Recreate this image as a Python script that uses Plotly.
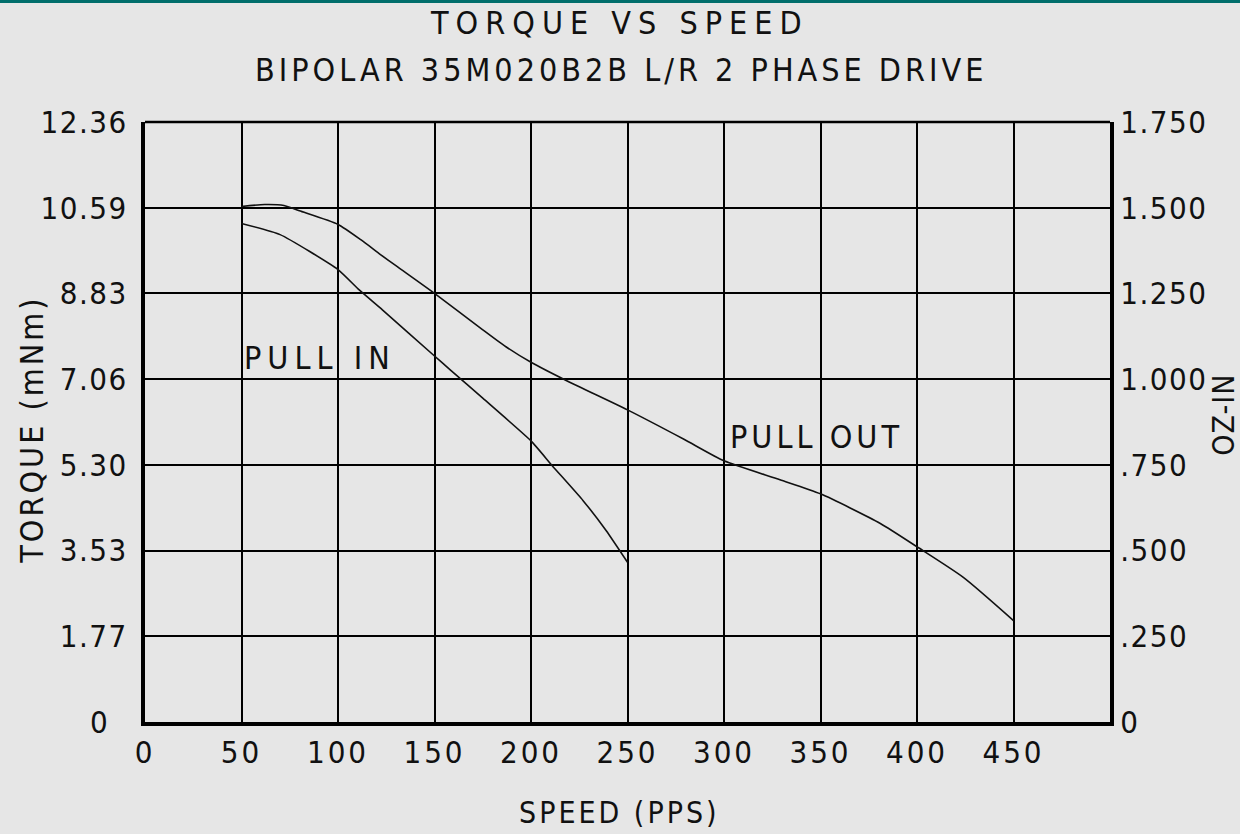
import plotly.graph_objects as go

# ---- data ----
pull_out_speed = [50, 62, 72, 80, 100, 112, 122, 130, 150, 174, 187, 200, 219, 250, 279, 300, 329, 350, 381, 400, 424, 450]
pull_out_torque = [10.62, 10.66, 10.64, 10.53, 10.25, 9.93, 9.63, 9.40, 8.83, 8.11, 7.73, 7.41, 7.02, 6.43, 5.83, 5.38, 4.99, 4.70, 4.09, 3.61, 2.98, 2.09]

pull_in_speed = [50, 70, 100, 111, 123, 150, 158, 175, 200, 211, 227, 239, 250]
pull_in_torque = [10.27, 10.04, 9.32, 8.90, 8.49, 7.54, 7.26, 6.67, 5.79, 5.28, 4.56, 3.94, 3.29]

speed_ticks = [0, 50, 100, 150, 200, 250, 300, 350, 400, 450]
torque_tick_labels = ["0", "1.77", "3.53", "5.30", "7.06", "8.83", "10.59", "12.36"]
ozin_ticks = [0, 0.25, 0.5, 0.75, 1.0, 1.25, 1.5, 1.75]
ozin_tick_labels = ["0", ".250", ".500", ".750", "1.000", "1.250", "1.500", "1.750"]

FONT = "Liberation Sans Narrow, DejaVu Sans Condensed, DejaVu Sans Mono, monospace"
BG = "#e6e6e6"
INK = "#111111"


def spaced(t, ls):
    return f'<span style="letter-spacing:{ls}px">{t}</span>'


fig = go.Figure()
fig.add_trace(go.Scatter(x=pull_out_speed, y=pull_out_torque, mode="lines",
                         line=dict(color=INK, width=1.6, shape="spline", smoothing=0.6),
                         showlegend=False, name="PULL OUT"))
fig.add_trace(go.Scatter(x=pull_in_speed, y=pull_in_torque, mode="lines",
                         line=dict(color=INK, width=1.6, shape="spline", smoothing=0.5),
                         showlegend=False, name="PULL IN"))
# invisible trace to activate the right axis
fig.add_trace(go.Scatter(x=[0], y=[0], yaxis="y2", mode="markers",
                         marker=dict(opacity=0), showlegend=False, hoverinfo="skip"))

tickfont = dict(family=FONT, size=31, color=INK)

left_text = [spaced(t, 20) if t == "0" else spaced(t, 1.5) for t in torque_tick_labels]

fig.update_layout(
    width=1240, height=834,
    paper_bgcolor=BG, plot_bgcolor=BG,
    margin=dict(l=145, r=130, t=122, b=112),
    xaxis=dict(range=[0, 500], tickvals=speed_ticks,
               ticktext=[spaced(str(v), 3) for v in speed_ticks],
               showgrid=True, gridcolor="black", gridwidth=2,
               showline=True, linecolor="black", linewidth=4,
               zeroline=False, ticks="",
               tickfont=tickfont, fixedrange=True),
    yaxis=dict(range=[0, 12.36], tickvals=[float(t) for t in torque_tick_labels],
               ticktext=left_text,
               showgrid=True, gridcolor="black", gridwidth=2,
               showline=True, linecolor="black", linewidth=4,
               zeroline=False, ticks="outside", ticklen=7, tickcolor="rgba(0,0,0,0)",
               tickfont=tickfont, fixedrange=True),
    yaxis2=dict(range=[0, 1.75], tickvals=ozin_ticks,
                ticktext=[spaced(t, 1.5) for t in ozin_tick_labels],
                overlaying="y", side="right", showgrid=False,
                showline=True, linecolor="black", linewidth=4,
                zeroline=False, ticks="",
                tickfont=tickfont, fixedrange=True),
    shapes=[
        dict(type="line", xref="paper", yref="paper", x0=0, x1=1, y0=1, y1=1,
             line=dict(color="black", width=2.5)),
        dict(type="line", xref="paper", yref="paper", x0=-145 / 965, x1=1 + 130 / 965,
             y0=1 + 120.5 / 600, y1=1 + 120.5 / 600, line=dict(color="#006e6b", width=3)),
    ],
)

ann_font = dict(family=FONT, size=32, color=INK)
annotations = [
    dict(text=spaced("TORQUE VS SPEED", 7), x=0.4922, y=1.165),
    dict(text=spaced("BIPOLAR 35M020B2B L/R 2 PHASE DRIVE", 4), x=0.4933, y=1.0867),
    dict(text=spaced("SPEED (PPS)", 3), x=0.4922, y=-0.15, font=dict(family=FONT, size=30, color=INK)),
    dict(text=spaced("TORQUE (mNm)", 3), x=-0.1171, y=0.487, textangle=-90),
    dict(text=spaced("OZ-IN", 1), x=1.118, y=0.512, textangle=-90, font=dict(family=FONT, size=30, color=INK)),
]
for a in annotations:
    a.setdefault("font", ann_font)
    fig.add_annotation(xref="paper", yref="paper", showarrow=False,
                       xanchor="center", yanchor="middle", **a)

fig.add_annotation(x=90.7, y=7.49, xref="x", yref="y", text=spaced("PULL IN", 6),
                   showarrow=False, font=ann_font, xanchor="center", yanchor="middle")
fig.add_annotation(x=347.7, y=5.87, xref="x", yref="y", text=spaced("PULL OUT", 4),
                   showarrow=False, font=ann_font, xanchor="center", yanchor="middle")

fig.write_html("out.html", config={"displayModeBar": False},
               post_script="document.body.style.margin='0px';")
